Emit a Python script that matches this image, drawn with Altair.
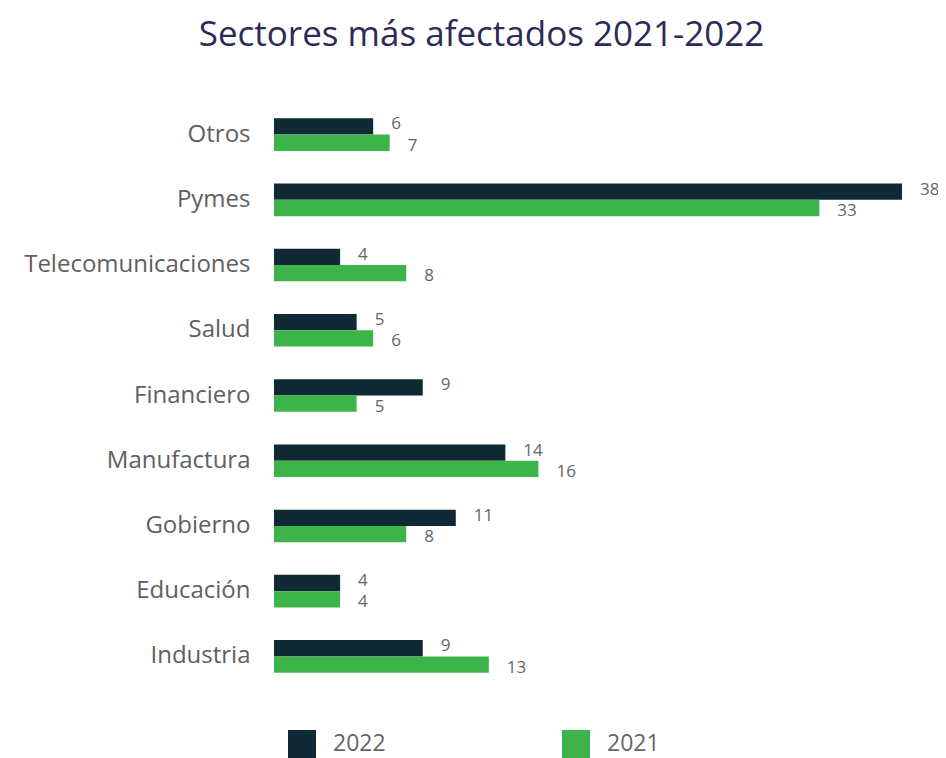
import altair as alt
import pandas as pd

sectors = ["Otros", "Pymes", "Telecomunicaciones", "Salud", "Financiero",
           "Manufactura", "Gobierno", "Educación", "Industria"]
values_2022 = [6, 38, 4, 5, 9, 14, 11, 4, 9]
values_2021 = [7, 33, 8, 6, 5, 16, 8, 4, 13]
years = ["2022", "2021"]
colors = ["#0f2a35", "#3cb44a"]

rows = []
for s, a, b in zip(sectors, values_2022, values_2021):
    rows.append({"sector": s, "year": "2022", "value": a})
    rows.append({"sector": s, "year": "2021", "value": b})
df = pd.DataFrame(rows)

FONT = "Open Sans"

base = alt.Chart(df).encode(
    y=alt.Y("sector:N", sort=sectors,
            scale=alt.Scale(paddingInner=0.5, paddingOuter=0.25),
            axis=alt.Axis(title=None, domain=False, ticks=False, labelFontSize=24,
                          labelColor="#606060", labelFont=FONT, labelPadding=24,
                          labelLimit=400)),
    yOffset=alt.YOffset("year:N", sort=years),
)

bars = base.mark_bar().encode(
    x=alt.X("value:Q", scale=alt.Scale(domain=[0, 38], nice=False),
            axis=None),
    color=alt.Color("year:N", sort=years,
                    scale=alt.Scale(domain=years, range=colors),
                    legend=alt.Legend(title=None, orient="none", legendX=14, legendY=628,
                                      direction="horizontal", symbolType="square",
                                      symbolSize=784, symbolStrokeWidth=0,
                                      symbolOpacity=1,
                                      labelFontSize=23, labelColor="#666666",
                                      labelFont=FONT, labelOffset=17,
                                      columnPadding=176)),
)

labels_2022 = base.mark_text(align="left", baseline="middle", dx=18, dy=-2, fontSize=17,
                             color="#666666", font=FONT).encode(
    x=alt.X("value:Q"),
    text=alt.Text("value:Q"),
).transform_filter(alt.datum.year == "2022")

labels_2021 = base.mark_text(align="left", baseline="middle", dx=18, dy=3, fontSize=17,
                             color="#666666", font=FONT).encode(
    x=alt.X("value:Q"),
    text=alt.Text("value:Q"),
).transform_filter(alt.datum.year == "2021")

chart = (bars + labels_2022 + labels_2021).properties(
    width=628,
    height=587,
    padding={"left": 266, "top": 94, "right": 36, "bottom": 90},
    autosize=alt.AutoSizeParams(type="none"),
    title=alt.TitleParams("Sectores más afectados 2021-2022", fontSize=35,
                          color="#2b2b55", font=FONT, fontWeight="normal",
                          anchor="middle", frame="bounds", offset=49),
).configure_view(stroke=None)

chart.save("out.html", embed_options={"renderer": "svg", "actions": False})
